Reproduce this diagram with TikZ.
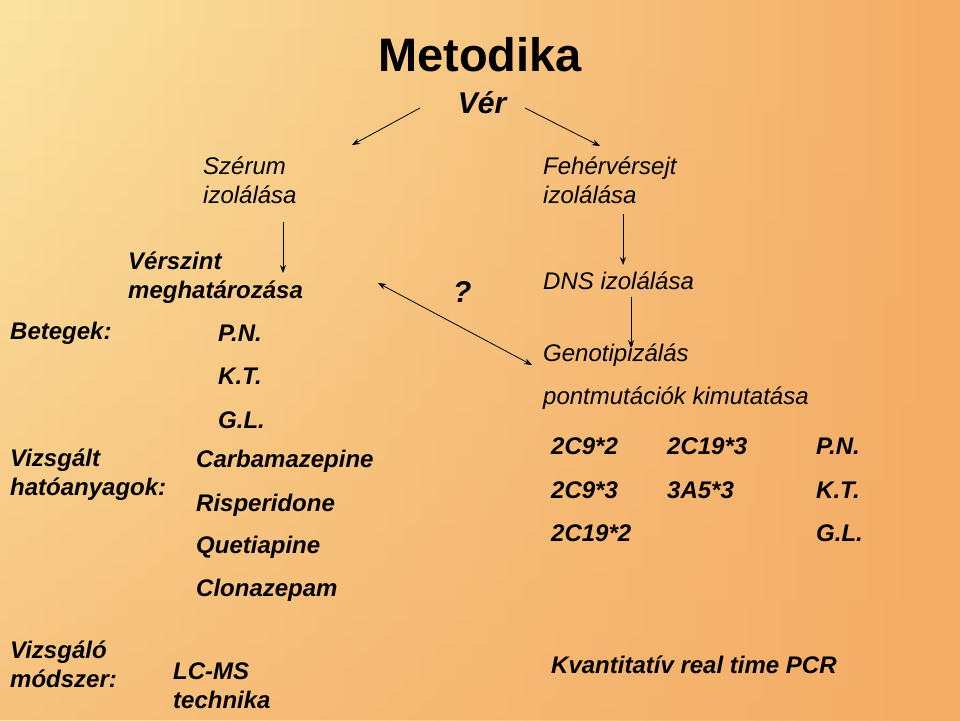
\documentclass[tikz,border=0pt]{standalone}
\usepackage{fontspec}
\setmainfont{Liberation Sans}
\usetikzlibrary{arrows.meta,fadings}
\definecolor{bgl}{HTML}{FBE4A2}
\definecolor{bgr}{HTML}{F4AC66}
\begin{document}
\begin{tikzpicture}[x=1pt,y=-1pt,
  bi/.style={anchor=west,inner sep=0pt,font=\fontsize{24}{29}\selectfont\bfseries\itshape,align=left},
  ri/.style={anchor=west,inner sep=0pt,font=\fontsize{24}{29}\selectfont\itshape,align=left},
  arr/.style={-{Stealth[length=8pt,width=6pt]},line width=0.8pt}]
\shade[left color=bgl,right color=bgr] (0,0) rectangle (960,720);
\fill[bgr,path fading=north,opacity=0.6] (0,0) rectangle (960,720);
\useasboundingbox (0,0) rectangle (960,720);
\node[inner sep=0pt,font=\fontsize{47}{52}\selectfont\bfseries] (met) at (480,55) {Metodika};
\node[inner sep=0pt,font=\fontsize{30}{36}\selectfont\bfseries\itshape] (ver) at (482,103) {Vér};
\node[ri] (sz) at (203,180) {Szérum\\izolálása};
\node[ri] (feh) at (543,180) {Fehérvérsejt\\izolálása};
\coordinate (a1s) at (420,108); \coordinate (a1e) at (352,145);
\coordinate (a2s) at (525,108); \coordinate (a2e) at (600,146);
\draw[arr] (a1s) -- (a1e);
\draw[arr] (a2s) -- (a2e);
\coordinate (b1s) at (283,222); \coordinate (b1e) at (283,273);
\draw[arr] (b1s) -- (b1e);
\coordinate (b2s) at (623,214); \coordinate (b2e) at (623,265);
\draw[arr] (b2s) -- (b2e);
\node[ri] (dns) at (543,281) {DNS izolálása};
\coordinate (b3s) at (631,297); \coordinate (b3e) at (631,348);
\draw[arr] (b3s) -- (b3e);
\coordinate (qs) at (378,283); \coordinate (qe) at (532,365);
\draw[arr,{Stealth[length=8pt,width=6pt]}-{Stealth[length=8pt,width=6pt]}] (qs) -- (qe);
\node[bi,font=\fontsize{30}{36}\selectfont\bfseries\itshape] (q) at (453,292) {?};
\node[bi] (vsz) at (128,278) {Vérszint\\meghatározása};
\node[bi] (bet) at (10,333) {Betegek:};
\node[bi] (pn) at (218,333) {P.N.};
\node[bi] (kt) at (218,376) {K.T.};
\node[bi] (gl) at (218,420) {G.L.};
\node[bi] (vh) at (10,475) {Vizsgált\\hatóanyagok:};
\node[bi] (car) at (196,461) {Carbamazepine};
\node[bi] (ris) at (196,505) {Risperidone};
\node[bi] (que) at (196,547) {Quetiapine};
\node[bi] (clo) at (196,590) {Clonazepam};
\node[ri] (gen) at (543,355) {Genotipizálás};
\node[ri] (pon) at (543,398) {pontmutációk kimutatása};
\node[bi] (c1) at (551,446) {2C9*2};
\node[bi] (c2) at (551,490) {2C9*3};
\node[bi] (c3) at (551,533) {2C19*2};
\node[bi] (c4) at (667,446) {2C19*3};
\node[bi] (c5) at (667,490) {3A5*3};
\node[bi] (p1) at (816,446) {P.N.};
\node[bi] (p2) at (816,490) {K.T.};
\node[bi] (p3) at (816,533) {G.L.};
\node[bi] (vm) at (10,664) {Vizsgáló\\módszer:};
\node[bi] (lc) at (173,686) {LC-MS\\technika};
\node[bi] (kv) at (551,665) {Kvantitatív real time PCR};
\end{tikzpicture}
\end{document}
